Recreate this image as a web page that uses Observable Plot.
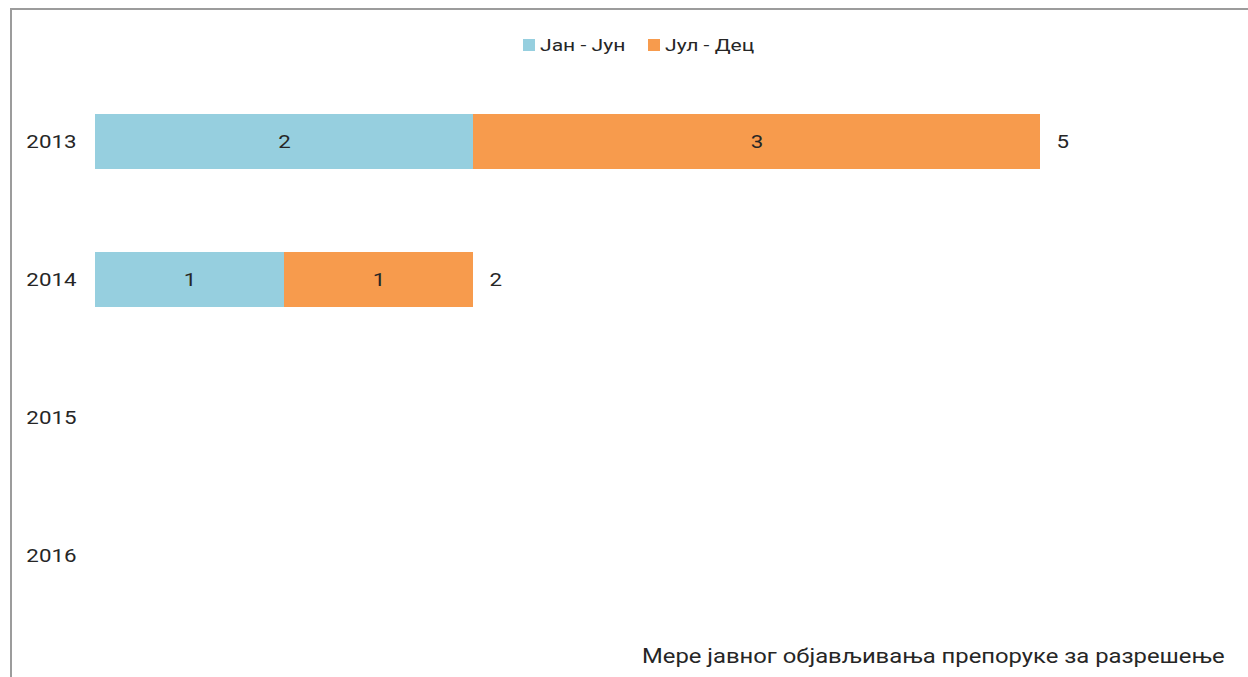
<!DOCTYPE html>
<html>
<head>
<meta charset="utf-8">
<script src="https://cdn.jsdelivr.net/npm/d3@7"></script>
<script src="https://cdn.jsdelivr.net/npm/@observablehq/plot@0.6"></script>
<style>
  html, body { margin: 0; padding: 0; background: #fff; width: 1248px; height: 677px; overflow: hidden; }
  body { position: relative; font-family: Roboto, "Noto Sans", sans-serif; color: #262626; }
  #frame { position: absolute; left: 10px; top: 8px; width: 1400px; height: 800px;
           border-left: 2px solid #9c9c9c; border-top: 2px solid #9c9c9c; }
  #chart { position: absolute; left: 0; top: 0; }
  #legend { position: absolute; top: 35px; left: 523px; display: flex; align-items: center; font-size: 17px; white-space: nowrap; }
  #legend .item { display: flex; align-items: center; margin-right: 23px; }
  #legend .sw { width: 12px; height: 12px; margin-right: 5px; flex: none; }
  #legend .lbl { display: inline-block; transform: scaleX(1.24); transform-origin: left center; }
  #caption { position: absolute; right: 23px; top: 644px; font-size: 20px; white-space: nowrap;
             transform: scaleX(1.19); transform-origin: right center; }
</style>
</head>
<body>
<div id="frame"></div>
<div id="chart"></div>
<div id="legend"></div>
<div id="caption"></div>
<script>
const years = ["2013", "2014", "2015", "2016"];
const seriesNames = ["Јан - Јун", "Јул - Дец"];
const janJun = [2, 1, null, null];
const julDec = [3, 1, null, null];
const totals = [5, 2, null, null];
const seriesColors = ["#96cfdf", "#f79b4d"];
const legendWidths = [85, 90];
const captionText = "Мере јавног објављивања препоруке за разрешење";

const rows = [];
years.forEach((y, i) => {
  if (janJun[i] != null) rows.push({year: y, series: seriesNames[0], value: janJun[i]});
  if (julDec[i] != null) rows.push({year: y, series: seriesNames[1], value: julDec[i]});
});
const totalRows = years.map((y, i) => ({year: y, total: totals[i]})).filter(d => d.total != null);

const chart = Plot.plot({
  width: 1248,
  height: 677,
  marginLeft: 95,
  marginRight: 208,
  marginTop: 71.75,
  marginBottom: 51.25,
  style: {fontFamily: "Roboto, 'Noto Sans', sans-serif", fontSize: "18px", color: "#262626", background: "transparent"},
  x: {domain: [0, 5], axis: null},
  y: {domain: years, paddingInner: 0.6, paddingOuter: 0.3, label: null},
  color: {domain: seriesNames, range: seriesColors},
  marks: [
    Plot.axisY({tickSize: 0, tickPadding: 19, fontSize: 18, label: null}),
    Plot.barX(rows, Plot.stackX({x: "value", y: "year", fill: "series", order: seriesNames})),
    Plot.textX(rows, Plot.stackX({x: "value", y: "year", z: "series", order: seriesNames, text: d => String(d.value), fill: "#262626", fontSize: 18})),
    Plot.text(totalRows, {x: "total", y: "year", text: d => String(d.total), dx: 16, textAnchor: "start", fill: "#262626", fontSize: 18})
  ]
});
// widen glyphs horizontally, as in the reference rendering
chart.querySelectorAll("text").forEach(t => {
  const tr = t.getAttribute("transform") || "";
  t.setAttribute("transform", (tr + " scale(1.24,1)").trim());
});
document.getElementById("chart").appendChild(chart);

const legend = document.getElementById("legend");
seriesNames.forEach((n, i) => {
  const item = document.createElement("div");
  item.className = "item";
  const sw = document.createElement("div");
  sw.className = "sw";
  sw.style.background = seriesColors[i];
  const wrap = document.createElement("div");
  wrap.style.width = legendWidths[i] + "px";
  const t = document.createElement("span");
  t.className = "lbl";
  t.textContent = n;
  wrap.appendChild(t);
  item.appendChild(sw);
  item.appendChild(wrap);
  legend.appendChild(item);
});
document.getElementById("caption").textContent = captionText;
</script>
</body>
</html>
